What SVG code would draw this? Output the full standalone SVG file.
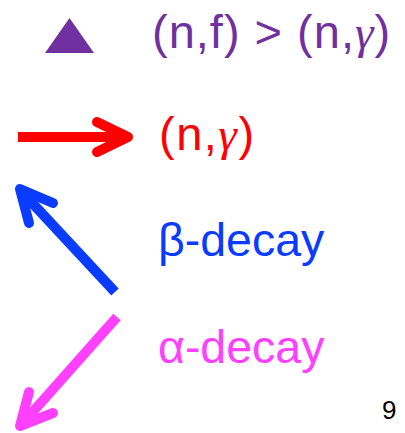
<svg xmlns="http://www.w3.org/2000/svg" width="405" height="433" viewBox="0 0 405 433">
<style>
.t{font-family:"Liberation Sans",Arial,sans-serif;}
.g{font-family:"Liberation Serif",serif;font-style:italic;}
.arr{fill:none;stroke-width:10;stroke-linecap:round;stroke-linejoin:round;}
</style>
<rect width="405" height="433" fill="#fff"/>
<g id="legend-fission">
<polygon points="45,53 94,53 69.5,18" fill="#7030A0"/>
<text class="t" x="152" y="48" font-size="47" letter-spacing="1" fill="#7030A0">(n,f) &gt; (n,<tspan class="g">γ</tspan>)</text>
</g>
<g id="connectors">
<g id="ng-arrow" stroke="#FF0000" class="arr">
<line x1="18" y1="137" x2="127" y2="137" stroke-linecap="butt"/>
<polyline points="97,122 128,137 97,152"/>
</g>
<g id="beta-arrow" stroke="#0A3CFF" class="arr">
<line x1="115" y1="292" x2="22" y2="192" stroke-linecap="butt"/>
<polyline points="53,203 20,189 29,223"/>
</g>
<g id="alpha-arrow" stroke="#FF40FF" class="arr">
<line x1="117" y1="317" x2="22" y2="424" stroke-linecap="butt"/>
<polyline points="29,392 20,426 53,413"/>
</g>
</g>
<g id="legend-ng">
<text class="t" x="159" y="150" font-size="47" letter-spacing="1.5" fill="#FF0000">(n,<tspan class="g">γ</tspan>)</text>
</g>
<g id="legend-beta">
<text class="t" x="158" y="256" font-size="46.5" fill="#0A3CFF">β-decay</text>
</g>
<g id="legend-alpha">
<text class="t" x="158" y="363" font-size="46.5" fill="#FF40FF">α-decay</text>
</g>
<g id="page-number">
<text class="t" x="382" y="419" font-size="26" fill="#000">9</text>
</g>
</svg>
